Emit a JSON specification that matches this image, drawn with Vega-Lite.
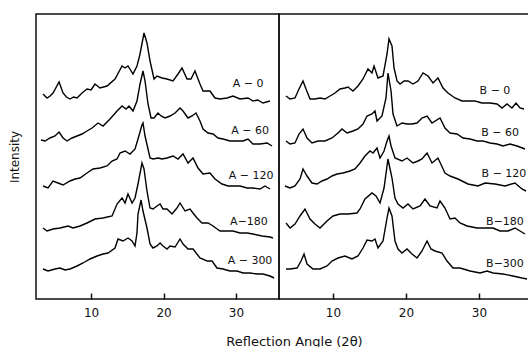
{
  "$schema": "https://vega.github.io/schema/vega-lite/v6.json",
  "padding": {"left": 7, "top": 13, "right": 0, "bottom": 0},
  "background": "white",
  "spacing": 0,
  "bounds": "flush",
  "config": {
    "view": {"stroke": "#111", "strokeWidth": 1.5},
    "font": "DejaVu Sans",
    "axis": {"grid": false, "domain": false, "labelColor": "#111", "titleColor": "#111", "titleFontWeight": "normal", "tickColor": "#111", "zindex": 2}
  },
  "datasets": {
    "a": [
      {"s":"A0","x":3.38,"y":205},{"s":"A0","x":3.93,"y":201},{"s":"A0","x":4.35,"y":203},{"s":"A0","x":4.76,"y":206},{"s":"A0","x":5.59,"y":217},{"s":"A0","x":6.14,"y":206},{"s":"A0","x":6.6,"y":202},{"s":"A0","x":7.1,"y":200},{"s":"A0","x":7.6,"y":202},{"s":"A0","x":8.07,"y":201},{"s":"A0","x":8.76,"y":206},{"s":"A0","x":9.45,"y":210},{"s":"A0","x":10.0,"y":209},{"s":"A0","x":10.55,"y":215},{"s":"A0","x":11.24,"y":211},{"s":"A0","x":12.21,"y":213},{"s":"A0","x":13.31,"y":220},{"s":"A0","x":14.28,"y":233},{"s":"A0","x":14.69,"y":231},{"s":"A0","x":15.1,"y":233},{"s":"A0","x":15.79,"y":225},{"s":"A0","x":16.34,"y":233},{"s":"A0","x":16.76,"y":245},{"s":"A0","x":17.31,"y":266},{"s":"A0","x":17.72,"y":256},{"s":"A0","x":18.14,"y":238},{"s":"A0","x":18.69,"y":220},{"s":"A0","x":19.1,"y":223},{"s":"A0","x":19.79,"y":221},{"s":"A0","x":20.48,"y":220},{"s":"A0","x":21.31,"y":218},{"s":"A0","x":22.0,"y":225},{"s":"A0","x":22.55,"y":231},{"s":"A0","x":23.24,"y":220},{"s":"A0","x":23.79,"y":220},{"s":"A0","x":24.34,"y":228},{"s":"A0","x":25.03,"y":215},{"s":"A0","x":25.45,"y":208},{"s":"A0","x":26.41,"y":208},{"s":"A0","x":27.1,"y":201},{"s":"A0","x":27.79,"y":200},{"s":"A0","x":28.76,"y":201},{"s":"A0","x":29.59,"y":203},{"s":"A0","x":30.55,"y":200},{"s":"A0","x":31.66,"y":201},{"s":"A0","x":32.34,"y":198},{"s":"A0","x":33.0,"y":199},{"s":"A0","x":33.72,"y":196},{"s":"A0","x":34.69,"y":198},
      {"s":"A60","x":3.1,"y":159},{"s":"A60","x":3.66,"y":158},{"s":"A60","x":4.34,"y":161},{"s":"A60","x":5.03,"y":163},{"s":"A60","x":5.59,"y":167},{"s":"A60","x":6.14,"y":161},{"s":"A60","x":6.69,"y":158},{"s":"A60","x":7.38,"y":161},{"s":"A60","x":8.07,"y":163},{"s":"A60","x":8.76,"y":165},{"s":"A60","x":9.45,"y":168},{"s":"A60","x":10.14,"y":171},{"s":"A60","x":10.97,"y":176},{"s":"A60","x":11.66,"y":173},{"s":"A60","x":12.62,"y":180},{"s":"A60","x":13.59,"y":188},{"s":"A60","x":14.28,"y":193},{"s":"A60","x":14.83,"y":190},{"s":"A60","x":15.24,"y":193},{"s":"A60","x":15.79,"y":188},{"s":"A60","x":16.34,"y":198},{"s":"A60","x":16.76,"y":215},{"s":"A60","x":17.17,"y":228},{"s":"A60","x":17.45,"y":218},{"s":"A60","x":17.86,"y":195},{"s":"A60","x":18.28,"y":181},{"s":"A60","x":18.69,"y":181},{"s":"A60","x":19.24,"y":186},{"s":"A60","x":19.66,"y":183},{"s":"A60","x":20.21,"y":181},{"s":"A60","x":20.9,"y":183},{"s":"A60","x":21.59,"y":186},{"s":"A60","x":22.28,"y":191},{"s":"A60","x":22.69,"y":188},{"s":"A60","x":23.38,"y":181},{"s":"A60","x":23.93,"y":183},{"s":"A60","x":24.48,"y":186},{"s":"A60","x":25.03,"y":178},{"s":"A60","x":25.45,"y":170},{"s":"A60","x":26.14,"y":166},{"s":"A60","x":26.83,"y":165},{"s":"A60","x":27.52,"y":161},{"s":"A60","x":28.21,"y":160},{"s":"A60","x":29.17,"y":158},{"s":"A60","x":30.14,"y":158},{"s":"A60","x":30.97,"y":158},{"s":"A60","x":31.66,"y":160},{"s":"A60","x":32.34,"y":155},{"s":"A60","x":33.31,"y":155},{"s":"A60","x":34.28,"y":156},{"s":"A60","x":34.97,"y":153},
      {"s":"A120","x":3.38,"y":113},{"s":"A120","x":4.07,"y":111},{"s":"A120","x":4.76,"y":118},{"s":"A120","x":5.45,"y":116},{"s":"A120","x":6.14,"y":114},{"s":"A120","x":7.1,"y":118},{"s":"A120","x":7.79,"y":120},{"s":"A120","x":8.48,"y":121},{"s":"A120","x":9.45,"y":126},{"s":"A120","x":10.28,"y":130},{"s":"A120","x":11.24,"y":131},{"s":"A120","x":12.21,"y":133},{"s":"A120","x":12.9,"y":138},{"s":"A120","x":13.59,"y":140},{"s":"A120","x":14.0,"y":146},{"s":"A120","x":14.69,"y":148},{"s":"A120","x":15.38,"y":145},{"s":"A120","x":16.07,"y":150},{"s":"A120","x":16.48,"y":160},{"s":"A120","x":17.03,"y":174},{"s":"A120","x":17.17,"y":176},{"s":"A120","x":17.45,"y":163},{"s":"A120","x":18.14,"y":141},{"s":"A120","x":18.55,"y":140},{"s":"A120","x":19.24,"y":141},{"s":"A120","x":19.79,"y":140},{"s":"A120","x":20.48,"y":141},{"s":"A120","x":21.31,"y":143},{"s":"A120","x":22.0,"y":140},{"s":"A120","x":22.69,"y":145},{"s":"A120","x":23.38,"y":136},{"s":"A120","x":24.07,"y":141},{"s":"A120","x":24.76,"y":131},{"s":"A120","x":25.45,"y":125},{"s":"A120","x":26.41,"y":126},{"s":"A120","x":27.1,"y":120},{"s":"A120","x":28.07,"y":115},{"s":"A120","x":28.9,"y":113},{"s":"A120","x":29.59,"y":113},{"s":"A120","x":30.55,"y":113},{"s":"A120","x":31.52,"y":111},{"s":"A120","x":32.34,"y":111},{"s":"A120","x":33.31,"y":110},{"s":"A120","x":34.0,"y":113},{"s":"A120","x":34.69,"y":110},
      {"s":"A180","x":3.38,"y":71},{"s":"A180","x":3.93,"y":68},{"s":"A180","x":4.76,"y":70},{"s":"A180","x":5.72,"y":71},{"s":"A180","x":6.83,"y":73},{"s":"A180","x":7.52,"y":71},{"s":"A180","x":8.48,"y":73},{"s":"A180","x":9.45,"y":76},{"s":"A180","x":10.55,"y":80},{"s":"A180","x":11.66,"y":81},{"s":"A180","x":12.9,"y":83},{"s":"A180","x":13.59,"y":95},{"s":"A180","x":14.28,"y":101},{"s":"A180","x":14.69,"y":96},{"s":"A180","x":15.1,"y":105},{"s":"A180","x":15.66,"y":96},{"s":"A180","x":16.07,"y":101},{"s":"A180","x":16.48,"y":115},{"s":"A180","x":17.03,"y":136},{"s":"A180","x":17.31,"y":130},{"s":"A180","x":17.72,"y":108},{"s":"A180","x":18.14,"y":91},{"s":"A180","x":18.55,"y":90},{"s":"A180","x":19.1,"y":93},{"s":"A180","x":19.52,"y":95},{"s":"A180","x":19.93,"y":90},{"s":"A180","x":20.48,"y":90},{"s":"A180","x":21.17,"y":85},{"s":"A180","x":21.86,"y":91},{"s":"A180","x":22.28,"y":96},{"s":"A180","x":22.97,"y":88},{"s":"A180","x":23.66,"y":90},{"s":"A180","x":24.07,"y":86},{"s":"A180","x":24.62,"y":81},{"s":"A180","x":25.31,"y":76},{"s":"A180","x":26.14,"y":76},{"s":"A180","x":26.83,"y":73},{"s":"A180","x":27.79,"y":68},{"s":"A180","x":28.76,"y":68},{"s":"A180","x":29.59,"y":68},{"s":"A180","x":30.55,"y":66},{"s":"A180","x":31.52,"y":66},{"s":"A180","x":32.34,"y":65},{"s":"A180","x":33.59,"y":63},{"s":"A180","x":34.69,"y":62},{"s":"A180","x":35.1,"y":61},
      {"s":"A300","x":3.38,"y":30},{"s":"A300","x":4.07,"y":28},{"s":"A300","x":5.03,"y":30},{"s":"A300","x":5.72,"y":31},{"s":"A300","x":6.41,"y":29},{"s":"A300","x":7.1,"y":30},{"s":"A300","x":8.07,"y":33},{"s":"A300","x":8.9,"y":36},{"s":"A300","x":9.86,"y":40},{"s":"A300","x":10.83,"y":43},{"s":"A300","x":11.66,"y":45},{"s":"A300","x":12.34,"y":46},{"s":"A300","x":13.31,"y":51},{"s":"A300","x":13.72,"y":60},{"s":"A300","x":14.41,"y":58},{"s":"A300","x":15.1,"y":61},{"s":"A300","x":15.66,"y":58},{"s":"A300","x":16.07,"y":53},{"s":"A300","x":16.34,"y":66},{"s":"A300","x":16.48,"y":85},{"s":"A300","x":16.9,"y":99},{"s":"A300","x":17.17,"y":88},{"s":"A300","x":17.72,"y":71},{"s":"A300","x":18.14,"y":55},{"s":"A300","x":18.55,"y":51},{"s":"A300","x":19.1,"y":53},{"s":"A300","x":19.52,"y":56},{"s":"A300","x":19.93,"y":53},{"s":"A300","x":20.48,"y":50},{"s":"A300","x":20.9,"y":53},{"s":"A300","x":21.59,"y":52},{"s":"A300","x":22.28,"y":60},{"s":"A300","x":22.69,"y":55},{"s":"A300","x":23.38,"y":50},{"s":"A300","x":24.07,"y":50},{"s":"A300","x":25.03,"y":41},{"s":"A300","x":26.0,"y":38},{"s":"A300","x":26.69,"y":38},{"s":"A300","x":27.38,"y":31},{"s":"A300","x":28.21,"y":30},{"s":"A300","x":29.17,"y":28},{"s":"A300","x":30.14,"y":28},{"s":"A300","x":30.97,"y":26},{"s":"A300","x":31.93,"y":26},{"s":"A300","x":32.9,"y":25},{"s":"A300","x":33.72,"y":25},{"s":"A300","x":34.69,"y":23},{"s":"A300","x":35.24,"y":21}
    ],
    "b": [
      {"s":"B0","x":3.56,"y":203},{"s":"B0","x":4.11,"y":200},{"s":"B0","x":4.79,"y":201},{"s":"B0","x":5.34,"y":210},{"s":"B0","x":5.89,"y":218},{"s":"B0","x":6.3,"y":210},{"s":"B0","x":6.85,"y":200},{"s":"B0","x":7.53,"y":200},{"s":"B0","x":8.22,"y":201},{"s":"B0","x":8.9,"y":200},{"s":"B0","x":9.59,"y":203},{"s":"B0","x":10.27,"y":206},{"s":"B0","x":10.96,"y":210},{"s":"B0","x":11.64,"y":211},{"s":"B0","x":12.05,"y":212},{"s":"B0","x":12.74,"y":208},{"s":"B0","x":13.42,"y":213},{"s":"B0","x":14.11,"y":220},{"s":"B0","x":14.79,"y":230},{"s":"B0","x":15.34,"y":226},{"s":"B0","x":15.62,"y":233},{"s":"B0","x":16.16,"y":221},{"s":"B0","x":16.85,"y":223},{"s":"B0","x":17.4,"y":245},{"s":"B0","x":17.67,"y":260},{"s":"B0","x":18.08,"y":253},{"s":"B0","x":18.36,"y":231},{"s":"B0","x":18.77,"y":218},{"s":"B0","x":19.18,"y":215},{"s":"B0","x":19.73,"y":218},{"s":"B0","x":20.27,"y":218},{"s":"B0","x":20.96,"y":215},{"s":"B0","x":21.64,"y":218},{"s":"B0","x":22.33,"y":226},{"s":"B0","x":23.01,"y":223},{"s":"B0","x":23.7,"y":216},{"s":"B0","x":24.38,"y":221},{"s":"B0","x":25.07,"y":211},{"s":"B0","x":25.75,"y":206},{"s":"B0","x":26.71,"y":201},{"s":"B0","x":27.67,"y":198},{"s":"B0","x":28.49,"y":198},{"s":"B0","x":29.45,"y":198},{"s":"B0","x":30.41,"y":196},{"s":"B0","x":31.51,"y":196},{"s":"B0","x":32.47,"y":195},{"s":"B0","x":33.15,"y":191},{"s":"B0","x":33.84,"y":195},{"s":"B0","x":34.52,"y":191},{"s":"B0","x":35.07,"y":196},{"s":"B0","x":35.62,"y":191},{"s":"B0","x":36.16,"y":190},
      {"s":"B60","x":3.56,"y":158},{"s":"B60","x":4.11,"y":155},{"s":"B60","x":4.79,"y":156},{"s":"B60","x":5.34,"y":165},{"s":"B60","x":5.89,"y":170},{"s":"B60","x":6.44,"y":161},{"s":"B60","x":7.12,"y":156},{"s":"B60","x":7.95,"y":158},{"s":"B60","x":8.9,"y":158},{"s":"B60","x":9.86,"y":161},{"s":"B60","x":10.68,"y":166},{"s":"B60","x":11.23,"y":170},{"s":"B60","x":11.92,"y":166},{"s":"B60","x":12.74,"y":168},{"s":"B60","x":13.42,"y":170},{"s":"B60","x":14.11,"y":175},{"s":"B60","x":14.66,"y":183},{"s":"B60","x":15.34,"y":185},{"s":"B60","x":15.75,"y":188},{"s":"B60","x":16.03,"y":178},{"s":"B60","x":16.71,"y":183},{"s":"B60","x":17.26,"y":201},{"s":"B60","x":17.53,"y":226},{"s":"B60","x":17.95,"y":208},{"s":"B60","x":18.22,"y":185},{"s":"B60","x":18.77,"y":173},{"s":"B60","x":19.45,"y":176},{"s":"B60","x":20.14,"y":175},{"s":"B60","x":20.82,"y":175},{"s":"B60","x":21.51,"y":176},{"s":"B60","x":22.19,"y":181},{"s":"B60","x":22.88,"y":183},{"s":"B60","x":23.56,"y":176},{"s":"B60","x":24.66,"y":181},{"s":"B60","x":25.34,"y":171},{"s":"B60","x":26.03,"y":166},{"s":"B60","x":26.99,"y":165},{"s":"B60","x":27.81,"y":161},{"s":"B60","x":28.77,"y":160},{"s":"B60","x":29.73,"y":158},{"s":"B60","x":30.55,"y":158},{"s":"B60","x":31.51,"y":156},{"s":"B60","x":32.47,"y":155},{"s":"B60","x":33.29,"y":153},{"s":"B60","x":34.25,"y":155},{"s":"B60","x":35.21,"y":153},{"s":"B60","x":36.3,"y":150},
      {"s":"B120","x":3.42,"y":113},{"s":"B120","x":4.11,"y":111},{"s":"B120","x":4.79,"y":113},{"s":"B120","x":5.48,"y":120},{"s":"B120","x":5.89,"y":130},{"s":"B120","x":6.44,"y":123},{"s":"B120","x":7.12,"y":116},{"s":"B120","x":7.81,"y":115},{"s":"B120","x":8.49,"y":118},{"s":"B120","x":9.18,"y":120},{"s":"B120","x":9.86,"y":123},{"s":"B120","x":10.55,"y":125},{"s":"B120","x":11.37,"y":126},{"s":"B120","x":12.33,"y":128},{"s":"B120","x":13.01,"y":130},{"s":"B120","x":13.7,"y":136},{"s":"B120","x":14.38,"y":143},{"s":"B120","x":15.07,"y":148},{"s":"B120","x":15.48,"y":146},{"s":"B120","x":16.03,"y":151},{"s":"B120","x":16.44,"y":141},{"s":"B120","x":16.99,"y":148},{"s":"B120","x":17.4,"y":158},{"s":"B120","x":17.67,"y":163},{"s":"B120","x":17.95,"y":153},{"s":"B120","x":18.49,"y":141},{"s":"B120","x":19.45,"y":138},{"s":"B120","x":20.14,"y":141},{"s":"B120","x":20.96,"y":136},{"s":"B120","x":21.64,"y":138},{"s":"B120","x":22.19,"y":140},{"s":"B120","x":22.88,"y":146},{"s":"B120","x":23.56,"y":136},{"s":"B120","x":24.38,"y":141},{"s":"B120","x":25.34,"y":126},{"s":"B120","x":26.03,"y":123},{"s":"B120","x":27.12,"y":120},{"s":"B120","x":28.49,"y":115},{"s":"B120","x":29.86,"y":113},{"s":"B120","x":30.82,"y":116},{"s":"B120","x":32.19,"y":115},{"s":"B120","x":33.56,"y":113},{"s":"B120","x":34.93,"y":116},{"s":"B120","x":35.89,"y":110},{"s":"B120","x":36.44,"y":108},
      {"s":"B180","x":3.56,"y":76},{"s":"B180","x":4.11,"y":71},{"s":"B180","x":4.79,"y":75},{"s":"B180","x":5.48,"y":83},{"s":"B180","x":6.16,"y":90},{"s":"B180","x":6.85,"y":80},{"s":"B180","x":7.53,"y":75},{"s":"B180","x":8.22,"y":71},{"s":"B180","x":9.18,"y":78},{"s":"B180","x":10.0,"y":83},{"s":"B180","x":10.96,"y":85},{"s":"B180","x":12.05,"y":85},{"s":"B180","x":13.29,"y":86},{"s":"B180","x":13.7,"y":90},{"s":"B180","x":14.38,"y":100},{"s":"B180","x":15.34,"y":106},{"s":"B180","x":15.89,"y":103},{"s":"B180","x":16.44,"y":96},{"s":"B180","x":16.99,"y":111},{"s":"B180","x":17.53,"y":140},{"s":"B180","x":18.08,"y":121},{"s":"B180","x":18.49,"y":101},{"s":"B180","x":18.9,"y":95},{"s":"B180","x":19.59,"y":91},{"s":"B180","x":20.27,"y":95},{"s":"B180","x":20.96,"y":90},{"s":"B180","x":21.92,"y":93},{"s":"B180","x":22.6,"y":100},{"s":"B180","x":23.29,"y":93},{"s":"B180","x":24.25,"y":91},{"s":"B180","x":24.66,"y":98},{"s":"B180","x":25.34,"y":91},{"s":"B180","x":26.03,"y":80},{"s":"B180","x":26.71,"y":81},{"s":"B180","x":27.4,"y":76},{"s":"B180","x":28.36,"y":73},{"s":"B180","x":29.73,"y":71},{"s":"B180","x":31.1,"y":71},{"s":"B180","x":31.92,"y":71},{"s":"B180","x":32.88,"y":68},{"s":"B180","x":33.97,"y":68},{"s":"B180","x":34.93,"y":71},{"s":"B180","x":35.62,"y":68},{"s":"B180","x":36.3,"y":65},
      {"s":"B300","x":3.56,"y":30},{"s":"B300","x":4.11,"y":30},{"s":"B300","x":5.07,"y":31},{"s":"B300","x":5.62,"y":38},{"s":"B300","x":6.03,"y":45},{"s":"B300","x":6.44,"y":35},{"s":"B300","x":7.26,"y":30},{"s":"B300","x":8.22,"y":30},{"s":"B300","x":9.18,"y":33},{"s":"B300","x":9.86,"y":38},{"s":"B300","x":10.68,"y":41},{"s":"B300","x":11.64,"y":43},{"s":"B300","x":12.6,"y":40},{"s":"B300","x":13.42,"y":43},{"s":"B300","x":14.11,"y":51},{"s":"B300","x":14.66,"y":59},{"s":"B300","x":15.34,"y":58},{"s":"B300","x":15.75,"y":60},{"s":"B300","x":16.16,"y":51},{"s":"B300","x":16.85,"y":58},{"s":"B300","x":17.4,"y":81},{"s":"B300","x":17.67,"y":91},{"s":"B300","x":18.08,"y":83},{"s":"B300","x":18.49,"y":58},{"s":"B300","x":18.9,"y":50},{"s":"B300","x":19.45,"y":46},{"s":"B300","x":20.14,"y":50},{"s":"B300","x":20.82,"y":45},{"s":"B300","x":21.51,"y":41},{"s":"B300","x":22.19,"y":48},{"s":"B300","x":22.88,"y":58},{"s":"B300","x":23.42,"y":50},{"s":"B300","x":23.97,"y":48},{"s":"B300","x":24.93,"y":46},{"s":"B300","x":25.62,"y":38},{"s":"B300","x":26.44,"y":31},{"s":"B300","x":27.4,"y":31},{"s":"B300","x":28.77,"y":28},{"s":"B300","x":30.14,"y":26},{"s":"B300","x":31.1,"y":28},{"s":"B300","x":31.92,"y":26},{"s":"B300","x":33.29,"y":25},{"s":"B300","x":34.66,"y":23},{"s":"B300","x":35.89,"y":21},{"s":"B300","x":36.58,"y":20}
    ],
    "la": [
      {"t":"A − 0","x":31.66,"y":215},{"t":"A − 60","x":31.93,"y":168},{"t":"A − 120","x":32.07,"y":123},{"t":"A−180","x":31.79,"y":77},{"t":"A − 300","x":31.93,"y":38}
    ],
    "lb": [
      {"t":"B − 0","x":32.19,"y":208},{"t":"B − 60","x":32.88,"y":166},{"t":"B − 120","x":33.42,"y":125},{"t":"B−180","x":33.56,"y":77},{"t":"B−300","x":33.56,"y":35}
    ]
  },
  "hconcat": [
    {
      "width": 243,
      "height": 285,
      "layer": [
        {
          "data": {"name": "a"},
          "mark": {"type": "line", "color": "#000", "strokeWidth": 1.4},
          "encoding": {
            "x": {"field": "x", "type": "quantitative", "scale": {"domain": [2.41, 35.93], "nice": false, "zero": false},
                  "axis": {"values": [10, 20, 30], "ticks": true, "offset": -6, "tickSize": 6, "tickWidth": 1.5, "labelPadding": 8, "labelFontSize": 12, "labelFont": "DejaVu Sans",
                           "title": "Reflection Angle (2θ)", "titleFontSize": 13, "titleFont": "DejaVu Sans", "titleX": 258, "titleY": 52, "titleBaseline": "alphabetic", "titleAnchor": null, "titleAlign": "center"}},
            "y": {"field": "y", "type": "quantitative", "scale": {"domain": [0, 285], "nice": false, "zero": false},
                  "axis": {"title": "Intensity", "ticks": false, "labels": false, "titlePadding": 15, "titleFontSize": 12, "titleFont": "DejaVu Sans"}},
            "detail": {"field": "s"}
          }
        },
        {
          "data": {"name": "la"},
          "mark": {"type": "text", "font": "DejaVu Sans", "fontSize": 11, "color": "#111"},
          "encoding": {
            "x": {"field": "x", "type": "quantitative"},
            "y": {"field": "y", "type": "quantitative"},
            "text": {"field": "t"}
          }
        }
      ]
    },
    {
      "width": 250,
      "height": 285,
      "layer": [
        {
          "data": {"name": "b"},
          "mark": {"type": "line", "color": "#000", "strokeWidth": 1.4},
          "encoding": {
            "x": {"field": "x", "type": "quantitative", "scale": {"domain": [2.6, 36.85], "nice": false, "zero": false},
                  "axis": {"values": [10, 20, 30], "ticks": true, "offset": -6, "tickSize": 6, "tickWidth": 1.5, "labelPadding": 8, "labelFontSize": 12, "labelFont": "DejaVu Sans", "title": null}},
            "y": {"field": "y", "type": "quantitative", "scale": {"domain": [0, 285], "nice": false, "zero": false}, "axis": null},
            "detail": {"field": "s"}
          }
        },
        {
          "data": {"name": "lb"},
          "mark": {"type": "text", "font": "DejaVu Sans", "fontSize": 11, "color": "#111"},
          "encoding": {
            "x": {"field": "x", "type": "quantitative"},
            "y": {"field": "y", "type": "quantitative"},
            "text": {"field": "t"}
          }
        }
      ]
    }
  ]
}
